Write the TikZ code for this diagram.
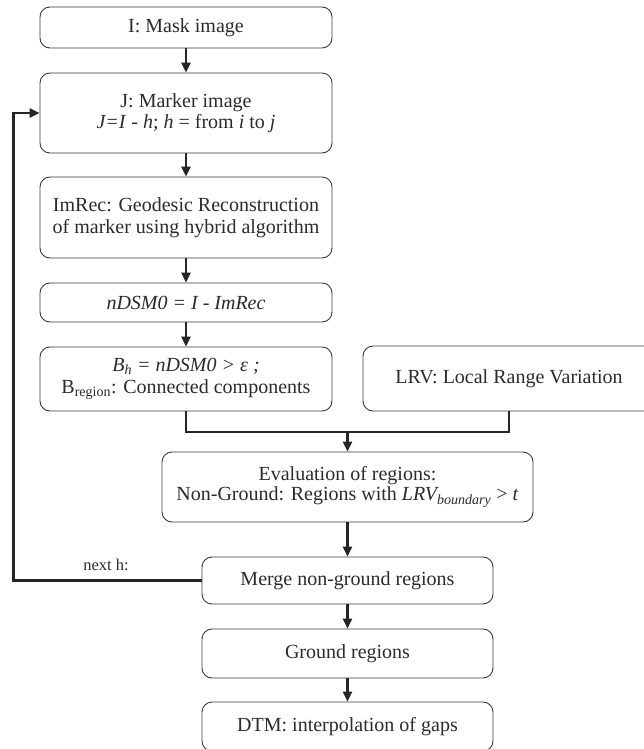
\documentclass[tikz,border=0pt]{standalone}
\usepackage{fontspec}
\setmainfont{Liberation Serif}
\usetikzlibrary{arrows.meta}
\definecolor{txt}{HTML}{2B2B2B}
\definecolor{edge}{HTML}{3A3A3A}
\tikzset{
  box/.style={draw=edge, line width=0.9pt, rounded corners=10pt, align=center,
    inner sep=0pt, text=txt, font=\fontsize{20}{21}\selectfont},
  flow/.style={line width=2.4pt, draw=black!85},
  tip/.style={-{Triangle[length=10pt,width=9pt]}}
}
\begin{document}
\begin{tikzpicture}[x=1pt,y=-1pt]
\useasboundingbox (0,0) rectangle (643,749);
\node[box, minimum width=292pt, minimum height=41pt] (mask) at (186,27.5) {I: Mask image};
\node[box, minimum width=292pt, minimum height=80pt] (J) at (186,113) {J: Marker image\\\textit{J=I} - \textit{h}; \textit{h} = from \textit{i} to \textit{j}};
\node[box, minimum width=292pt, minimum height=81pt, font=\fontsize{20}{22}\selectfont] (rec) at (186,217.5) {ImRec: Geodesic Reconstruction\\of marker using hybrid algorithm};
\node[box, minimum width=292pt, minimum height=39pt] (nd) at (186,302.5) {\textit{nDSM0 = I - ImRec}};
\node[box, minimum width=292pt, minimum height=64pt, font=\fontsize{20}{22}\selectfont] (B) at (186,379) {\textit{B\textsubscript{h} = nDSM0 > ε ;}\\B\textsubscript{region}: Connected components};
\node[box, minimum width=292pt, minimum height=65pt] (LRV) at (509,378.5) {LRV: Local Range Variation};
\node[box, minimum width=371pt, minimum height=70pt, font=\fontsize{20}{20}\selectfont] (eval) at (347.5,487) {Evaluation of regions:\\Non-Ground: Regions with \textit{LRV\textsubscript{boundary}} > \textit{t}};
\node[box, minimum width=291pt, minimum height=47pt] (merge) at (347.5,580.5) {Merge non-ground regions};
\node[box, minimum width=291pt, minimum height=49pt] (ground) at (347.5,653.5) {Ground regions};
\node[box, minimum width=291pt, minimum height=49pt] (dtm) at (347.5,726.5) {DTM: interpolation of gaps};

\draw[flow,tip] (mask) -- (J);
\draw[flow,tip] (J) -- (rec);
\draw[flow,tip] (rec) -- (nd);
\draw[flow,tip] (nd) -- (B);
\coordinate (jn) at (347.5,432);
\draw[flow] (B.south) |- (jn) -| (LRV.south);
\draw[flow,tip] (jn) -- (eval.north);
\draw[flow,tip] (eval) -- (merge);
\draw[flow,tip] (merge) -- (ground);
\draw[flow,tip] (ground) -- (dtm);
\draw[flow,tip] (merge.west) -- ++(-188,0) |- (J.west);
\node[font=\fontsize{16.5}{18}\selectfont, text=txt] (nh) at (106,565) {next h:};
\end{tikzpicture}
\end{document}
